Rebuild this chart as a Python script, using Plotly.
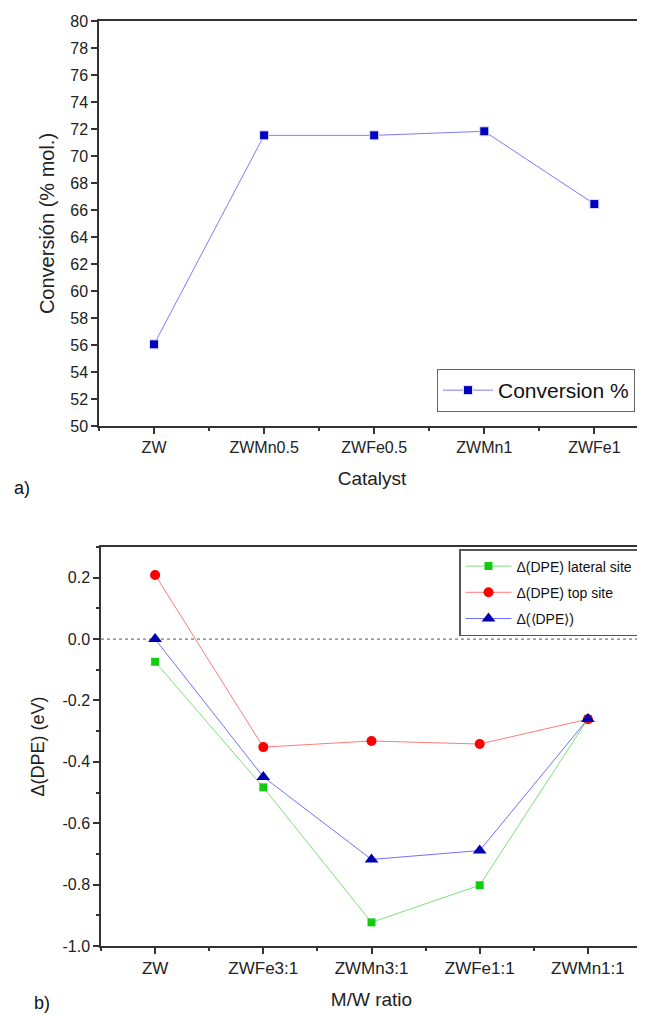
import plotly.graph_objects as go

# ---- data ----
catalysts = ["ZW", "ZWMn0.5", "ZWFe0.5", "ZWMn1", "ZWFe1"]
conversion = [56.05, 71.53, 71.53, 71.83, 66.44]

ratios = ["ZW", "ZWFe3:1", "ZWMn3:1", "ZWFe1:1", "ZWMn1:1"]
dpe_lateral = [-0.074, -0.483, -0.923, -0.802, -0.26]
dpe_top = [0.209, -0.352, -0.332, -0.342, -0.261]
dpe_mean = [0.0, -0.449, -0.718, -0.689, -0.26]

top_yticks = list(range(50, 81, 2))
bot_yticks = [0.2, 0.0, -0.2, -0.4, -0.6, -0.8, -1.0]
bot_yticktext = ["0.2", "0.0", "-0.2", "-0.4", "-0.6", "-0.8", "-1.0"]

FONT = "Arial, Liberation Sans, sans-serif"
AX = "#333333"

x_top = list(range(len(catalysts)))
x_bot = list(range(len(ratios)))

fig = go.Figure()

fig.add_trace(go.Scatter(
    x=x_top, y=conversion, mode="lines+markers", name="Conversion %",
    line=dict(color="#7b7bff", width=1),
    marker=dict(symbol="square", size=9, color="#0000c0", line=dict(color="#e0e0ff", width=1)),
    xaxis="x", yaxis="y", legend="legend"))

fig.add_trace(go.Scatter(
    x=x_bot, y=dpe_lateral, mode="lines+markers", name="\u0394(DPE) lateral site",
    line=dict(color="#7de07d", width=1),
    marker=dict(symbol="square", size=8, color="#11cc11"),
    xaxis="x2", yaxis="y2", legend="legend2", legendgroup="g1"))
fig.add_trace(go.Scatter(
    x=x_bot, y=dpe_top, mode="lines+markers", name="\u0394(DPE) top site",
    line=dict(color="#ff7b7b", width=1),
    marker=dict(symbol="circle", size=10, color="#ff0000"),
    xaxis="x2", yaxis="y2", legend="legend2", legendgroup="g2"))
fig.add_trace(go.Scatter(
    x=x_bot, y=dpe_mean, mode="lines+markers", name="\u0394(\u27e8DPE\u27e9)",
    line=dict(color="#7070ff", width=1),
    marker=dict(symbol="triangle-up", size=12, color="#0000b0"),
    xaxis="x2", yaxis="y2", legend="legend2", legendgroup="g3"))

# page has an 8px body margin; figure occupies page pixels 8..645 / 8..1015
OFF = 8
W, H = 645 - OFF, 1015 - OFF
def px_x(p): return (p - OFF) / W
def px_y(p): return 1 - (p - OFF) / H

common_axis = dict(showline=True, linecolor=AX, linewidth=1.5, ticks="outside",
                   tickcolor=AX, tickwidth=1.5, showgrid=False, zeroline=False,
                   automargin=False)

fig.update_layout(
    width=W, height=H, margin=dict(l=0, r=0, t=0, b=0, pad=0, autoexpand=False),
    paper_bgcolor="white", plot_bgcolor="white",
    font=dict(family=FONT, color="#222"),
    xaxis=dict(common_axis, domain=[px_x(99), 1.0], range=[-0.5, 4.46],
               tickvals=x_top, ticktext=catalysts, ticklen=6, mirror=True,
               tickfont=dict(family=FONT, size=16, color="#222"),
               minor=dict(tick0=0.5, dtick=1, ticks="outside", ticklen=3, tickcolor=AX, tickwidth=1.5),
               title=dict(text="Catalyst", font=dict(family=FONT, size=19, color="#222"), standoff=17),
               anchor="y"),
    yaxis=dict(common_axis, domain=[px_y(426), px_y(21)], range=[50, 80],
               tickvals=top_yticks, ticklen=6,
               tickfont=dict(family=FONT, size=16, color="#222"),
               title=dict(text="Conversión (% mol.)", font=dict(family=FONT, size=20, color="#222"), standoff=10),
               anchor="x"),
    xaxis2=dict(common_axis, domain=[px_x(101), px_x(642)], range=[-0.5, 4.5],
                tickvals=x_bot, ticktext=ratios, ticklen=6, mirror=True,
                tickfont=dict(family=FONT, size=17, color="#222"),
                minor=dict(tick0=0.5, dtick=1, ticks="outside", ticklen=3, tickcolor=AX, tickwidth=1.5),
                title=dict(text="M/W ratio", font=dict(family=FONT, size=19, color="#222"), standoff=16),
                anchor="y2"),
    yaxis2=dict(common_axis, domain=[px_y(946), px_y(547)], range=[-1.0, 0.3],
                tickvals=bot_yticks, ticktext=bot_yticktext, ticklen=6, mirror=True,
                tickfont=dict(family=FONT, size=16, color="#222"),
                minor=dict(tick0=0.1, dtick=0.2, ticks="outside", ticklen=3, tickcolor=AX, tickwidth=1.5),
                title=dict(text="\u0394(DPE) (eV)", font=dict(family=FONT, size=18, color="#222"), standoff=13),
                anchor="x2"),
    legend=dict(x=px_x(437), y=px_y(369), xanchor="left", yanchor="top",
                bordercolor="#666", borderwidth=1, bgcolor="white",
                font=dict(family=FONT, size=21, color="#111"),
                tracegroupgap=0, itemwidth=50),
    legend2=dict(x=px_x(459), y=px_y(549), xanchor="left", yanchor="top",
                 bordercolor="#555", borderwidth=1.5, bgcolor="white",
                 font=dict(family=FONT, size=14, color="#111"),
                 tracegroupgap=5, itemwidth=46),
    showlegend=True,
)

# dotted zero line in bottom chart
fig.add_shape(type="line", xref="x2 domain", yref="y2", x0=0, x1=1, y0=0, y1=0,
              line=dict(color="#555", width=1, dash="dot"), layer="below")

fig.add_annotation(text="a)", xref="paper", yref="paper", x=px_x(12), y=px_y(488),
                   xanchor="left", yanchor="middle", showarrow=False,
                   font=dict(family=FONT, size=18, color="#111"))
fig.add_annotation(text="b)", xref="paper", yref="paper", x=px_x(32), y=px_y(1003),
                   xanchor="left", yanchor="middle", showarrow=False,
                   font=dict(family=FONT, size=18, color="#111"))

fig.write_html("out.html")
